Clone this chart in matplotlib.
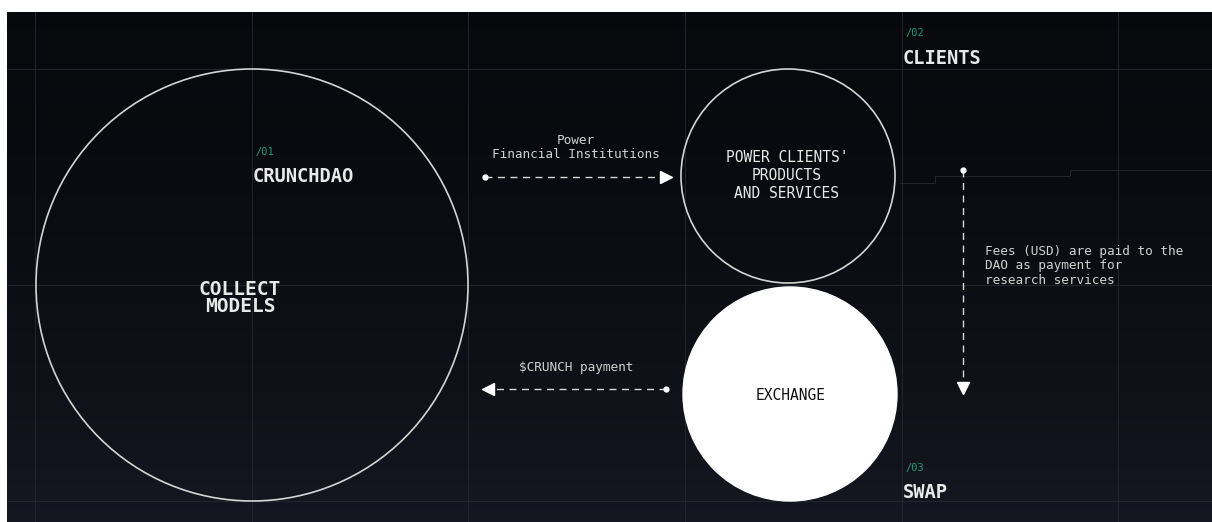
import numpy as np
import matplotlib.pyplot as plt
from matplotlib.patches import Circle

W, H = 1212, 522

# circles: centre x, centre y, radius, filled
circ_x = [252, 788, 790]
circ_y = [285, 176, 394]
circ_r = [216, 107, 107]
circ_fill = [False, False, True]

# section headings
num_labels = ['/01', '/02', '/03']
head_labels = ['CRUNCHDAO', 'CLIENTS', 'SWAP']
head_x = [253, 903, 903]
head_y = [177, 58, 493]

# grid
grid_x = [35, 252, 468, 685, 902, 1118]
grid_y = [69, 285, 501]

green = '#1f9e72'
line_c = '#d4d4d4'
mono = 'DejaVu Sans Mono'

fig = plt.figure(figsize=(W / 100, H / 100), dpi=100)
fig.patch.set_facecolor('white')
ax = fig.add_axes([0, 0, 1, 1])
ax.set_xlim(0, W)
ax.set_ylim(H, 0)
ax.axis('off')

# dark background with slight gradient
grad = np.linspace(0, 1, 200).reshape(-1, 1)
top = np.array([0.03, 0.035, 0.05])
bot = np.array([0.08, 0.09, 0.13])
img = top + (bot - top) * grad[:, :, None] ** 1.5
img = np.repeat(img, 2, axis=1)
ax.imshow(img, extent=[7, W, H, 12], aspect='auto', zorder=0)

for gx in grid_x:
    ax.plot([gx, gx], [12, H], color='#21242c', lw=0.8, zorder=1)
for gy in grid_y:
    ax.plot([7, W], [gy, gy], color='#21242c', lw=0.8, zorder=1)
# faint stepped line on the right
ax.plot([900, 935, 935, 1070, 1070, W], [183, 183, 176, 176, 170, 170],
        color='#23262e', lw=0.7, zorder=1)

for cx, cy, r, f in zip(circ_x, circ_y, circ_r, circ_fill):
    if f:
        ax.add_patch(Circle((cx, cy), r, facecolor='white', edgecolor='white', lw=1, zorder=3))
    else:
        ax.add_patch(Circle((cx, cy), r, facecolor='none', edgecolor=line_c, lw=1.2, zorder=3))

for n, t, x, y in zip(num_labels, head_labels, head_x, head_y):
    ax.text(x + 2, y - 25, n, color=green, fontsize=7.5, family=mono, va='center', ha='left', zorder=4)
    ax.text(x, y, t, color='#e8e8e8', fontsize=13.5, family=mono, weight='bold',
            va='center', ha='left', zorder=4)

ax.text(240, 298, 'COLLECT\nMODELS', color='#e8e8e8', fontsize=14, family=mono, weight='bold',
        ha='center', va='center', linespacing=0.85, zorder=4)
ax.text(787, 176, "POWER CLIENTS'\nPRODUCTS\nAND SERVICES", color='#e8e8e8', fontsize=10.5,
        family=mono, ha='center', va='center', linespacing=1.25, zorder=4)
ax.text(791, 395, 'EXCHANGE', color='#111111', fontsize=10.5, family=mono,
        ha='center', va='center', zorder=4)

ax.text(576, 147, 'Power\nFinancial Institutions', color='#cfcfcf', fontsize=9.2,
        family=mono, ha='center', va='center', linespacing=1.1, zorder=4)
ax.text(576, 368, '$CRUNCH payment', color='#cfcfcf', fontsize=9.2,
        family=mono, ha='center', va='center', zorder=4)
ax.text(985, 266, 'Fees (USD) are paid to the\nDAO as payment for\nresearch services',
        color='#cfcfcf', fontsize=9.2, family=mono, ha='left', va='center',
        linespacing=1.1, zorder=4)


def dashed_arrow(x0, y0, x1, y1, head):
    ax.plot([x0, x1], [y0, y1], color='#d8d8d8', lw=1.0, dashes=(5, 4), zorder=4)
    ax.plot([x0], [y0], 'o', color='white', ms=3.5, zorder=5)
    ax.plot([x1], [y1], head, color='white', ms=8, zorder=5)


dashed_arrow(485, 177, 666, 177, '>')
dashed_arrow(666, 389, 488, 389, '<')
dashed_arrow(963, 170, 963, 388, 'v')

fig.savefig('out.png', dpi=100, facecolor=fig.get_facecolor())
